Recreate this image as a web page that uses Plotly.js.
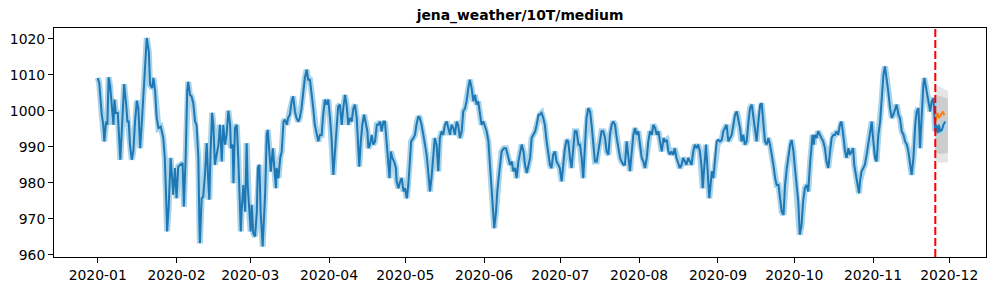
<!DOCTYPE html>
<html><head><meta charset="utf-8">
<script src="https://cdn.plot.ly/plotly-3.0.1.min.js"></script>
<style>html,body{margin:0;padding:0;background:#fff}#chart{width:996px;height:291px}</style>
</head><body><div id="chart"></div>
<script>
const chartTitle = 'jena_weather/10T/medium';
const baseDate = '2020-01-01';
// history (context) target: day offset from 2020-01-01, pressure (mbar)
const histDays = [0.0,0.6,1.6,2.2,2.6,3.3,3.8,4.3,4.9,5.5,6.2,6.6,7.1,7.9,8.4,8.9,9.6,10.1,10.4,11.2,11.7,12.2,12.7,13.4,14.0,14.7,15.4,16.0,16.4,16.7,17.3,18.0,18.6,19.3,20.1,20.6,21.4,21.9,22.6,23.2,23.9,24.8,
25.8,26.4,27.1,27.3,27.9,28.7,29.2,29.7,30.4,31.0,31.7,32.6,33.4,33.9,34.6,35.2,35.6,36.3,36.9,37.6,38.3,38.9,39.6,40.0,40.2,40.9,41.5,42.2,42.9,43.5,43.9,44.4,45.0,45.5,46.1,46.8,47.5,48.1,48.8,49.4,50.1,50.7,51.4,52.1,52.4,53.1,53.4,54.0,54.7,55.3,55.7,56.3,56.6,57.3,58.0,58.6,59.0,59.7,60.2,60.6,61.2,61.9,62.6,63.0,63.6,64.1,64.9,65.9,66.5,66.9,67.6,68.1,68.9,69.4,70.1,70.4,71.1,71.8,72.4,73.1,73.7,74.4,
74.9,75.6,76.3,76.9,77.6,78.2,78.9,79.5,80.2,80.9,81.5,82.2,82.8,83.5,84.1,84.8,85.4,86.1,86.8,87.4,88.1,88.7,89.4,90.0,90.7,91.4,92.0,92.7,93.3,94.0,94.6,95.3,96.0,96.6,97.3,97.9,98.6,99.2,99.9,100.6,101.2,101.9,102.5,102.9,103.5,104.1,104.8,105.4,106.1,106.5,107.1,107.8,108.4,109.1,109.8,110.4,111.1,111.7,112.4,113.0,113.7,114.4,114.8,115.3,115.9,116.6,117.3,117.6,118.3,119.0,119.6,120.3,120.9,121.6,122.2,122.9,123.3,124.2,
124.8,125.4,126.1,126.7,127.4,128.1,128.7,129.4,130.0,130.7,131.3,132.0,132.6,133.3,134.0,134.6,135.3,135.9,136.6,137.3,137.9,138.6,139.2,139.9,140.5,141.2,141.8,142.5,143.2,143.8,144.5,145.1,145.8,146.4,147.1,147.8,148.4,149.1,149.7,150.4,151.0,151.7,152.4,153.0,153.7,154.3,155.0,155.6,156.0,156.7,157.2,158.0,158.9,159.8,160.6,161.6,162.2,162.9,163.5,164.2,164.8,165.5,166.2,166.8,167.5,168.1,168.8,169.4,170.1,170.7,171.4,172.1,172.7,173.4,
173.9,174.6,175.3,175.9,176.6,177.2,177.9,178.5,179.2,179.9,180.5,181.2,181.8,182.5,183.1,183.8,184.5,185.1,185.8,186.4,187.1,187.7,188.4,189.1,189.7,190.4,191.0,191.7,192.3,193.0,193.7,194.3,195.0,195.6,196.3,196.9,197.6,198.2,198.9,199.6,200.2,200.9,201.5,202.2,202.8,203.5,204.2,204.8,205.5,206.1,206.8,207.4,208.1,209.4,210.1,210.7,211.4,212.0,212.7,213.4,214.0,214.7,215.3,216.0,216.6,217.3,218.0,218.6,219.3,219.9,220.6,221.2,221.9,222.6,223.2,223.9,224.5,
225.1,225.7,226.4,227.0,227.7,228.4,229.0,229.7,230.3,231.0,231.6,232.3,233.0,233.6,234.3,234.9,235.6,236.2,236.9,237.6,238.0,238.5,238.9,239.3,239.8,240.2,240.6,241.1,241.6,242.2,243.5,244.1,244.8,245.5,246.1,246.8,247.4,248.1,248.7,249.4,250.1,250.7,251.4,252.0,252.7,253.3,254.0,254.6,255.3,256.0,256.6,257.3,257.9,258.6,259.2,259.9,260.6,261.2,261.9,262.5,263.2,263.8,264.5,265.2,265.8,266.5,267.1,267.8,268.4,269.1,269.8,270.4,271.1,271.7,272.4,273.0,273.7,274.4,274.9,275.6,276.2,276.9,277.5,278.2,278.9,279.5,
280.2,280.8,281.2,281.7,282.1,282.8,283.4,284.1,284.8,285.4,286.1,286.7,287.4,288.0,288.7,289.4,290.0,290.7,291.3,292.0,292.6,293.3,294.0,294.6,295.3,295.9,296.6,297.2,297.6,298.3,298.8,299.5,299.9,300.5,301.2,301.8,302.5,303.2,303.8,304.5,304.9,305.4,305.8,306.4,307.1,307.8,308.4,309.1,309.7,310.4,311.0,311.7,312.4,313.0,313.7,314.3,315.0,315.6,316.3,317.0,317.6,318.3,318.9,319.6,320.2,320.9,321.6,322.2,322.9,323.5,324.2,324.8,325.2,325.9,326.8,327.5,328.1,328.8,329.2,329.5];
const histValues = [1009.1,1007.7,998.9,996.1,991.5,997.0,996.1,1009.3,1006.8,1000.7,996.1,1003.1,999.4,999.4,993.3,986.4,996.1,1005.4,1007.4,1001.7,997.0,997.0,990.6,986.4,988.7,997.0,1002.8,1000.7,996.1,989.6,996.1,1005.4,1014.6,1020.2,1016.5,1007.2,1006.3,1009.1,1005.4,998.0,995.2,995.6,
992.4,986.9,972.0,966.5,973.0,986.9,982.2,976.7,984.1,975.7,984.5,985.0,985.5,973.4,986.9,1005.4,1008.0,1004.4,1004.0,1002.1,997.0,996.1,986.9,968.3,963.2,975.7,976.2,982.2,991.0,980.4,975.3,988.7,999.4,996.1,985.0,987.8,990.6,996.1,985.9,996.1,990.6,993.3,1000.0,996.1,989.6,990.6,979.9,995.2,996.1,986.9,978.5,966.5,972.0,979.4,972.0,991.0,979.4,970.2,966.5,973.9,966.0,965.1,972.0,984.1,985.0,972.0,962.3,977.6,993.3,994.7,988.7,983.1,989.6,985.0,978.5,984.1,981.3,986.9,988.7,997.0,997.5,996.1,
998.0,998.9,1002.6,1004.0,999.8,998.0,997.0,998.0,1000.7,1005.4,1009.1,1011.4,1008.6,1008.6,1005.4,1000.7,996.1,993.3,991.5,993.3,993.3,998.9,1003.1,1001.7,1003.1,998.0,992.4,982.2,988.7,996.1,1001.2,1001.7,996.1,1000.7,1004.4,1001.7,996.1,998.0,997.0,1000.7,1001.7,998.0,988.7,984.5,991.5,996.1,998.9,997.0,994.3,989.6,990.6,993.3,990.6,991.5,996.1,996.1,997.0,994.3,997.0,997.0,991.5,985.0,981.3,988.7,986.9,985.9,984.1,980.4,978.5,980.4,981.3,977.6,978.5,975.7,979.4,986.9,991.5,992.4,
993.3,996.1,998.4,998.0,996.1,993.3,990.6,987.8,983.2,977.6,981.3,988.7,992.4,990.6,983.2,992.4,994.3,993.3,996.1,997.0,995.2,993.3,996.1,995.2,993.3,997.0,996.1,992.4,994.3,999.8,1000.7,1002.6,1006.3,1008.6,1006.3,1002.6,1004.4,1001.7,1002.6,998.9,996.1,997.0,995.2,994.3,991.5,985.0,977.6,969.3,967.4,972.0,977.6,983.1,988.7,989.6,989.6,986.9,985.0,985.9,983.2,984.1,981.3,985.9,988.7,990.6,988.7,985.0,982.7,985.0,986.9,992.4,993.3,994.3,996.1,998.9,
998.9,999.4,998.0,996.1,991.5,987.8,985.0,984.1,987.8,988.7,985.9,985.0,984.1,980.4,984.1,989.6,991.9,991.5,986.9,984.1,989.6,994.3,994.3,990.6,990.6,986.9,981.3,991.5,998.0,1000.7,999.8,996.1,989.6,985.9,985.9,988.7,991.5,994.3,994.3,992.4,988.7,987.8,993.3,996.1,997.0,996.1,992.4,989.6,986.9,985.9,985.0,985.0,991.5,983.2,988.7,993.3,995.2,993.3,994.3,990.6,986.9,985.9,984.1,986.9,991.5,994.3,993.3,996.1,995.2,993.3,994.3,991.5,988.7,992.4,991.5,991.9,988.7,
987.8,988.7,987.8,989.6,986.9,985.0,984.1,985.0,986.9,985.9,985.0,986.9,985.9,985.0,988.7,990.6,989.6,990.6,988.7,984.1,978.5,982.2,986.9,990.6,985.0,978.5,975.7,979.4,983.2,981.3,991.5,991.9,991.5,991.9,994.3,995.2,996.1,991.5,992.4,993.3,996.1,998.9,999.8,998.0,995.2,991.5,993.3,990.6,991.5,997.0,1000.7,1001.7,998.9,994.3,991.5,997.0,1001.7,1002.1,997.0,991.5,990.6,992.4,990.6,987.8,985.0,981.3,979.4,979.4,975.7,972.0,971.1,979.4,984.1,986.9,990.6,991.9,988.7,983.2,979.4,974.8,965.6,968.3,974.8,978.5,979.4,977.6,
985.0,991.5,993.3,990.6,993.3,992.4,994.3,993.3,992.4,991.5,989.6,985.9,984.1,987.8,992.4,993.3,993.3,994.3,993.3,996.1,997.0,993.3,988.7,986.9,989.6,987.8,988.7,989.6,985.0,982.2,979.4,977.1,980.4,983.2,984.1,985.0,987.8,991.5,994.3,997.0,993.3,989.6,986.9,985.9,993.3,997.0,1002.6,1010.0,1012.3,1009.1,1005.4,1000.7,998.0,998.9,1000.7,1001.7,998.9,997.9,994.3,993.3,991.5,990.6,988.7,985.0,982.2,986.9,996.1,999.8,1000.7,989.6,999.8,1007.2,1009.1,1006.3,1001.7,999.8,1002.6,1003.5,997.9,994.3];
// future target (after forecast start)
const futureDays = [329.8,330.4,330.9,331.4,332.1,332.7,333.4];
const futureValues = [996.1,993.8,996.1,994.3,994.7,996.1,997.0];
// forecast median
const forecastDays = [329.5,329.9,330.4,330.9,331.5,332.0,332.5,333.0];
const forecastMedian = [997.0,998.4,999.4,998.0,998.7,999.1,999.8,998.7];
// forecast quantile bands
const bandDays = [329.4,330.4,331.4,332.4,333.4,334.5];
const outerLower = [986.5,985.8,985.5,985.5,985.6,985.8];
const outerUpper = [1006.5,1006.8,1006.6,1006.2,1005.8,1005.5];
const innerLower = [988.5,988.2,988.0,988.0,988.2,988.4];
const innerUpper = [1004.5,1004.3,1004.0,1003.8,1003.6,1003.4];
const forecastStartDay = 329.5;
const xRangeDays = [-17.19, 349.45];
const yRange = [959.4, 1022.97];

const base = Date.parse(baseDate + 'T00:00:00Z');
function toDate(d){ return new Date(base + d*86400000).toISOString().slice(0,19).replace('T',' '); }
const D = a => a.map(toDate);

const allDays = histDays.concat(futureDays);
const allVals = histValues.concat(futureValues);
const F = {family:'DejaVu Sans', size:13.9, color:'#000'};

const traces = [
  {x:D(bandDays), y:outerLower, mode:'lines', line:{width:0}, hoverinfo:'skip', showlegend:false},
  {x:D(bandDays), y:outerUpper, mode:'lines', line:{width:0}, fill:'tonexty', fillcolor:'rgba(0,0,0,0.1)', showlegend:false},
  {x:D(bandDays), y:innerLower, mode:'lines', line:{width:0}, showlegend:false},
  {x:D(bandDays), y:innerUpper, mode:'lines', line:{width:0}, fill:'tonexty', fillcolor:'rgba(0,0,0,0.1)', showlegend:false},
  {x:D(allDays), y:allVals, mode:'lines', line:{color:'#a9d4ea', width:6}, showlegend:false},
  {x:D(allDays), y:allVals, mode:'lines', line:{color:'#1f77b4', width:2}, showlegend:false},
  {x:D(forecastDays), y:forecastMedian, mode:'lines', line:{color:'#ff7f0e', width:2}, showlegend:false}
];

const layout = {
  width:996, height:291,
  margin:{l:54, r:10, t:28, b:34, pad:0},
  paper_bgcolor:'#fff', plot_bgcolor:'#fff',
  font:F,
  title:{text:'<b>'+chartTitle+'</b>', font:F, x:0.5, xref:'paper', xanchor:'center', y:1-15/291, yref:'container', yanchor:'middle'},
  xaxis:{type:'date', range:D(xRangeDays), tick0:'2020-01-01', dtick:'M1', tickformat:'%Y-%m',
         showgrid:false, zeroline:false, showline:true, linecolor:'#000', linewidth:1, mirror:true,
         ticks:'outside', ticklen:5, tickwidth:1, tickcolor:'#000', tickfont:F},
  yaxis:{range:yRange, tick0:960, dtick:10, showgrid:false, zeroline:false, showline:true, linecolor:'#000', linewidth:1, mirror:true,
         ticks:'outside', ticklen:5, tickwidth:1, tickcolor:'#000', tickfont:F},
  shapes:[{type:'line', xref:'x', yref:'paper', x0:toDate(forecastStartDay), x1:toDate(forecastStartDay), y0:0, y1:1,
           line:{color:'#ff0000', width:2, dash:'8px,3px'}}],
  showlegend:false
};
Plotly.newPlot('chart', traces, layout, {staticPlot:true, displayModeBar:false});
</script></body></html>
